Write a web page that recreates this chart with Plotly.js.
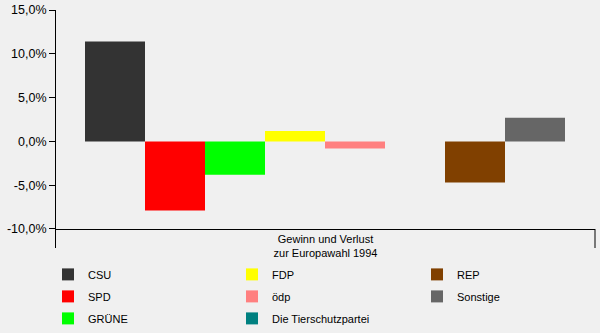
<!DOCTYPE html>
<html>
<head>
<meta charset="utf-8">
<script src="https://cdn.plot.ly/plotly-3.0.1.min.js"></script>
<style>html,body{margin:0;padding:0;background:#f0f0f0;}#chart{width:600px;height:333px;}</style>
</head>
<body>
<div id="chart"></div>
<script>
// ---- data ----
const categories = ['Gewinn und Verlust<br>zur Europawahl 1994'];
const parties = ['CSU', 'SPD', 'GRÜNE', 'FDP', 'ödp', 'Die Tierschutzpartei', 'REP', 'Sonstige'];
const changes = [11.4, -7.9, -3.8, 1.2, -0.8, 0, -4.7, 2.7];
const colors = ['#333333', '#ff0000', '#00ff00', '#ffff00', '#ff8080', '#008080', '#804000', '#666666'];
const yTickVals = [-10, -5, 0, 5, 10, 15];
const yTickText = ['-10,0%', '-5,0%', '0,0%', '5,0%', '10,0%', '15,0%'];

// ---- layout helpers ----
const W = 600, H = 333;
const margin = {l: 56, r: 5, t: 10, b: 85, autoexpand: false};
const plotW = W - margin.l - margin.r;
const yMin = -12.17, yMax = 15;
const axisCross = -10;
const xAxisPos = (axisCross - yMin) / (yMax - yMin);
const barStartPx = 29, barWidthPx = 60;
const legendIds = ['legend', 'legend', 'legend', 'legend2', 'legend2', 'legend2', 'legend3', 'legend3'];
const font = {family: 'Liberation Sans, Arial, sans-serif', size: 11, color: '#000000'};

const traces = parties.map((p, i) => ({
  type: 'bar',
  name: p,
  x: categories,
  y: [changes[i]],
  marker: {color: colors[i], line: {width: 0}},
  width: barWidthPx / plotW,
  offset: -0.5 + (barStartPx + i * barWidthPx) / plotW,
  legend: legendIds[i],
  legendgroup: 'g' + i,
  hoverinfo: 'name+y'
}));

const legendBase = {
  bgcolor: 'rgba(0,0,0,0)', borderwidth: 0, font: font,
  orientation: 'v', xref: 'paper', yref: 'paper', xanchor: 'left', yanchor: 'top',
  y: -0.05, tracegroupgap: 3, traceorder: 'grouped'
};
const colPx = [62, 246, 431];
const legX = px => (px - 14 - margin.l) / plotW;

const layout = {
  width: W, height: H,
  margin: margin,
  paper_bgcolor: '#f0f0f0',
  plot_bgcolor: '#f0f0f0',
  font: font,
  barmode: 'overlay',
  showlegend: true,
  xaxis: {
    type: 'category',
    range: [-0.5, 0.5],
    anchor: 'free',
    position: xAxisPos,
    showline: true, linecolor: '#000000', linewidth: 1,
    ticks: '', showgrid: false, zeroline: false,
    tickfont: font, fixedrange: true
  },
  yaxis: {
    range: [yMin, yMax],
    showline: true, linecolor: '#000000', linewidth: 1,
    ticks: 'outside', ticklen: 6, tickcolor: '#000000', tickwidth: 1,
    tickvals: yTickVals, ticktext: yTickText,
    showgrid: false, zeroline: false,
    tickfont: {family: font.family, size: 12.5, color: '#000000'},
    fixedrange: true
  },
  legend: Object.assign({}, legendBase, {x: legX(colPx[0])}),
  legend2: Object.assign({}, legendBase, {x: legX(colPx[1])}),
  legend3: Object.assign({}, legendBase, {x: legX(colPx[2])}),
  shapes: [{
    type: 'line', xref: 'paper', yref: 'paper',
    x0: 1, x1: 1, y0: 0, y1: xAxisPos,
    line: {color: '#000000', width: 1}
  }]
};

Plotly.newPlot('chart', traces, layout, {displayModeBar: false, staticPlot: true});
</script>
</body>
</html>
